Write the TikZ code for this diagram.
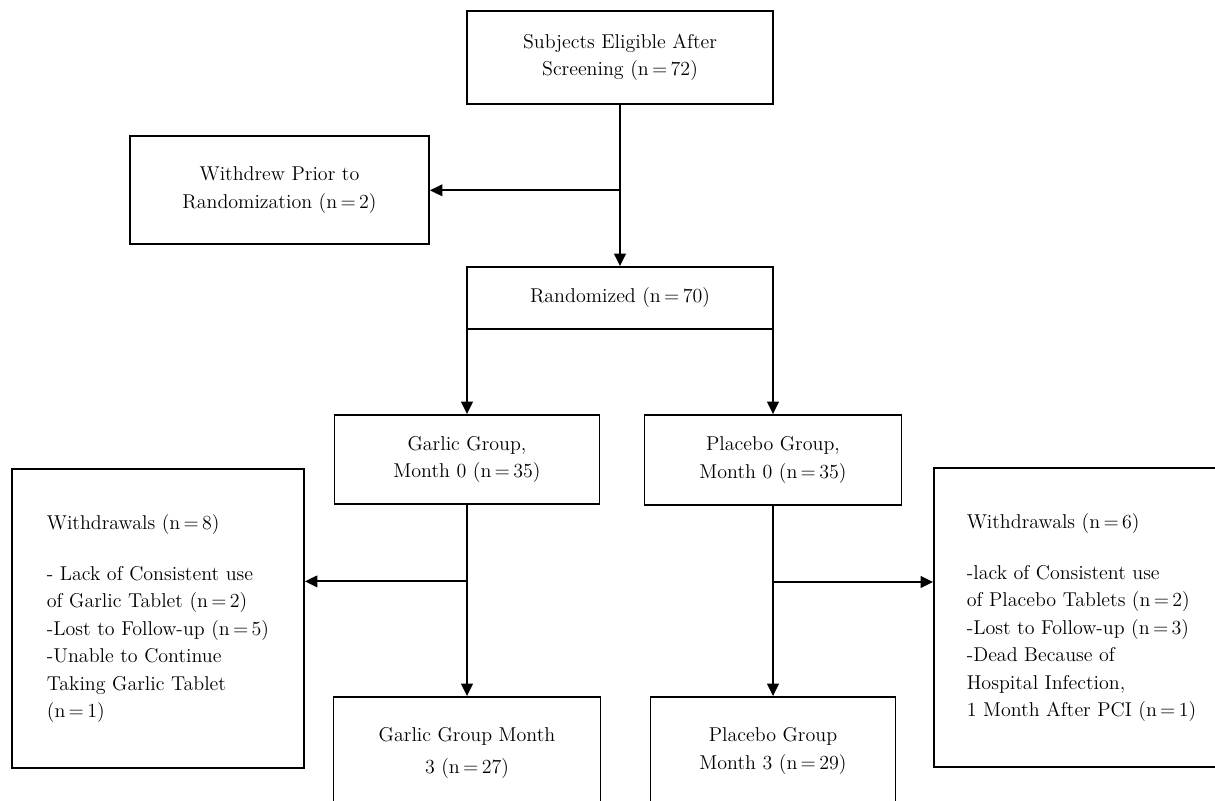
\documentclass[tikz,border=0pt]{standalone}
\usepackage{tikz}
\usetikzlibrary{arrows.meta,positioning,calc}

\tikzset{
    box/.style={draw, line width=1.1pt, align=center, inner sep=4pt,
        font=\fontsize{12}{16.5}\selectfont},
    listbox/.style={box, align=left},
    >={Triangle[length=7.5pt,width=7pt]},
}

\begin{document}
\begin{tikzpicture}[x=0.6pt, y=-0.6pt, line width=1.1pt]
    \useasboundingbox (0,0) rectangle (1215,800);

    % top of the chart
    \node[box, minimum width=183.6pt, minimum height=55.8pt] (elig) at (620,57.5)
        {Subjects Eligible After\\Screening (n\,=\,72)};
    \node[box, minimum width=179.4pt, minimum height=64.8pt] (prior) at (279.5,190)
        {Withdrew Prior to\\Randomization (n\,=\,2)};
    \node[box, minimum width=183.6pt, minimum height=37.2pt] (rand) at (620,298)
        {Randomized (n\,=\,70)};

    % the two arms
    \node[box, minimum width=159pt, minimum height=53.4pt] (garlic) at (467,459.5)
        {Garlic Group,\\Month 0 (n\,=\,35)};
    \node[box, minimum width=154.2pt, minimum height=54pt] (placebo) at (773,460)
        {Placebo Group,\\Month 0 (n\,=\,35)};

    % withdrawals
    \node[listbox, minimum width=175.2pt, minimum height=179.4pt] (wleft) at (158,618.5)
        {Withdrawals (n\,=\,8)\\[14pt]
         - Lack of Consistent use\\
         of Garlic Tablet (n\,=\,2)\\
         -Lost to Follow-up (n\,=\,5)\\
         -Unable to Continue\\
         Taking Garlic Tablet\\
         (n\,=\,1)};
    \node[listbox, minimum width=177pt, minimum height=179.4pt] (wright) at (1081.5,617.5)
        {Withdrawals (n\,=\,6)\\[14pt]
         -lack of Consistent use\\
         of Placebo Tablets (n\,=\,2)\\
         -Lost to Follow-up (n\,=\,3)\\
         -Dead Because of\\
         Hospital Infection,\\
         1 Month After PCI (n\,=\,1)};

    % month 3
    \node[box, minimum width=160.2pt, minimum height=67.2pt] (garlic3) at (467,753)
        {Garlic Group Month\\[3pt]3 (n\,=\,27)};
    \node[box, minimum width=147pt, minimum height=64.8pt] (placebo3) at (773,751)
        {Placebo Group\\Month 3 (n\,=\,29)};

    % split points
    \coordinate (s0) at ($(elig.south)!0.53!(rand.north)$);
    \coordinate (s1) at ($(garlic.south)!0.4!(garlic3.north)$);
    \coordinate (s2) at ($(placebo.south)!0.4!(placebo3.north)$);

    \draw[->] (elig.south) -- (rand.north);
    \draw[->] (s0) -- (s0 -| prior.east);
    \draw[->] (garlic.north |- rand.south) -- (garlic.north);
    \draw[->] (placebo.north |- rand.south) -- (placebo.north);
    \draw[->] (garlic.south) -- (garlic3.north);
    \draw[->] (s1) -- (s1 -| wleft.east);
    \draw[->] (placebo.south) -- (placebo3.north);
    \draw[->] (s2) -- (s2 -| wright.west);
\end{tikzpicture}
\end{document}
